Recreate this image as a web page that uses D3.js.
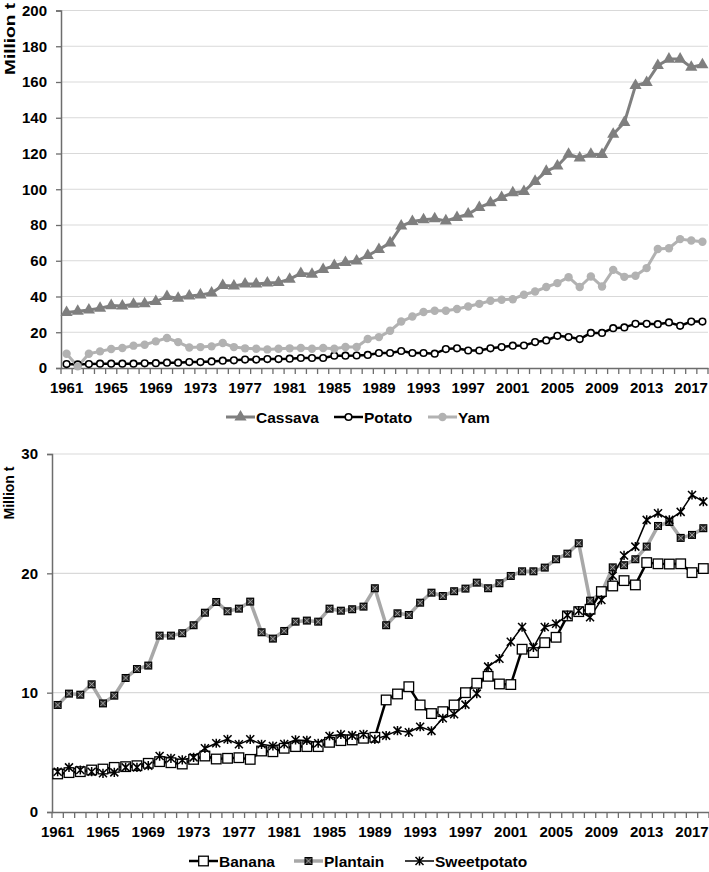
<!DOCTYPE html>
<html><head><meta charset="utf-8">
<script src="https://cdn.jsdelivr.net/npm/d3@7/dist/d3.min.js"></script>
<style>
body{margin:0;background:#fff;}
svg text{font-family:"Liberation Sans",Arial,sans-serif;font-weight:bold;fill:#000;}
</style></head>
<body><svg id="c" width="709" height="872"></svg>
<script>
const years = d3.range(1961, 2019);
const tickYears = [1961,1965,1969,1973,1977,1981,1985,1989,1993,1997,2001,2005,2009,2013,2017];

const cassava = [31.0,31.7,32.5,33.4,34.9,34.7,35.7,36.0,37.2,40.0,
39.0,40.3,40.9,42.0,46.1,45.9,47.0,47.0,47.6,47.8,
49.7,52.9,52.5,55.1,57.3,59.0,59.8,62.9,66.3,70.0,
79.4,82.0,82.9,83.5,82.3,84.2,86.1,89.8,92.4,95.4,
98.0,98.8,104.4,110.0,113.0,119.6,117.5,119.6,119.4,130.8,
137.3,158.0,159.7,169.2,172.8,172.8,168.3,169.6];
const potato = [2.2,2.0,2.2,2.4,2.4,2.4,2.4,2.6,2.7,3.0,
3.0,3.3,3.3,3.7,4.1,4.3,4.7,4.7,5.0,5.0,
5.2,5.6,5.6,5.6,6.9,6.9,7.0,7.3,8.4,8.4,
9.5,8.4,8.4,8.0,10.6,11.0,9.8,9.8,11.0,11.7,
12.5,12.6,14.5,15.4,18.0,17.3,16.2,19.6,19.6,22.3,
22.7,24.7,24.7,24.5,25.5,23.6,26.0,26.0];
const yam = [8.0,0.9,8.0,9.3,10.6,11.2,12.5,13.0,14.9,16.8,
14.5,11.5,11.7,12.1,14.0,11.7,11.0,10.8,10.4,10.8,
11.0,11.2,10.8,11.2,10.8,11.8,11.8,16.2,17.3,20.8,
26.0,28.8,31.3,32.0,32.0,33.0,34.4,35.9,37.6,38.2,
38.5,41.0,42.8,45.3,47.5,50.8,45.3,51.2,45.6,54.9,
51.0,51.6,55.9,66.6,67.0,72.1,71.3,70.6];

const banana = [3.19,3.3,3.38,3.52,3.6,3.74,3.8,3.88,4.08,4.22,
4.13,4.02,4.41,4.69,4.44,4.5,4.55,4.41,5.11,5.05,
5.34,5.48,5.48,5.48,5.84,5.98,6.04,6.18,6.26,9.39,
9.89,10.5,8.97,8.25,8.41,8.97,10.0,10.79,11.37,10.73,
10.68,13.64,13.36,14.19,14.64,16.43,16.79,16.99,18.47,18.94,
19.39,19.03,20.9,20.8,20.78,20.8,20.06,20.4];
const plantain = [8.97,9.92,9.83,10.7,9.1,9.75,11.23,11.98,12.27,14.78,
14.78,14.98,15.65,16.7,17.6,16.82,17.04,17.63,15.06,14.53,
15.17,15.95,16.04,15.95,17.04,16.87,16.99,17.21,18.75,15.65,
16.65,16.51,17.54,18.38,18.1,18.5,18.72,19.22,18.75,19.17,
19.78,20.17,20.17,20.48,21.18,21.65,22.52,17.71,18.33,20.5,
20.68,21.18,22.24,23.97,24.3,22.97,23.22,23.78];
const sweetpotato = [3.38,3.74,3.52,3.38,3.24,3.32,3.74,3.74,3.88,4.69,
4.5,4.36,4.58,5.34,5.76,6.09,5.67,6.09,5.67,5.53,
5.7,6.04,6.0,5.76,6.37,6.5,6.42,6.51,6.09,6.4,
6.82,6.68,7.15,6.8,7.85,8.19,9.0,9.92,12.18,12.85,
14.26,15.5,13.8,15.5,15.77,16.5,16.87,16.32,17.77,19.8,
21.5,22.24,24.48,25.04,24.48,25.15,26.57,26.01];

const topTicks = [0,20,40,60,80,100,120,140,160,180,200];
const botTicks = [0,10,20,30];

const svg = d3.select('#c');
const AX = '#6d6d6d', GRID = '#d9d9d9';

function markerPath(kind, g, x, y, st){
  if(kind==='tri'){
    g.append('path').attr('d',d3.symbol(d3.symbolTriangle,64)()).attr('transform',`translate(${x},${y})`)
      .attr('fill',st.color);
  } else if(kind==='circOpen'){
    g.append('circle').attr('cx',x).attr('cy',y).attr('r',3.3).attr('fill','#fff').attr('stroke','#000').attr('stroke-width',1.6);
  } else if(kind==='circFill'){
    g.append('circle').attr('cx',x).attr('cy',y).attr('r',4.2).attr('fill',st.color);
  } else if(kind==='sqOpen'){
    g.append('rect').attr('x',x-4.8).attr('y',y-4.8).attr('width',9.6).attr('height',9.6).attr('fill','#fff').attr('stroke','#000').attr('stroke-width',1.3);
  } else if(kind==='sqX'){
    g.append('rect').attr('x',x-3.4).attr('y',y-3.4).attr('width',6.8).attr('height',6.8).attr('fill','#3a3a3a').attr('stroke','#000').attr('stroke-width',1.2);
    g.append('path').attr('d',`M${x-2.6},${y-2.6}L${x+2.6},${y+2.6}M${x+2.6},${y-2.6}L${x-2.6},${y+2.6}`).attr('stroke','#aaa').attr('stroke-width',0.9);
  } else if(kind==='star'){
    g.append('path').attr('d',`M${x-4},${y-4}L${x+4},${y+4}M${x+4},${y-4}L${x-4},${y+4}M${x},${y-4.6}L${x},${y+4.6}`)
      .attr('stroke','#000').attr('stroke-width',1.5);
  }
}

function chart(cfg){
  const g = svg.append('g');
  const band = d3.scaleBand().domain(years).range([cfg.x0, cfg.x1]);
  const x = d => band(d) + band.bandwidth()/2;
  const y = d3.scaleLinear().domain([cfg.ticks[0], cfg.ticks[cfg.ticks.length-1]]).range([cfg.y0, cfg.y1]);
  g.selectAll('.grid').data(cfg.ticks.slice(1)).enter().append('line')
    .attr('x1',cfg.x0).attr('x2',cfg.x1).attr('y1',d=>y(d)).attr('y2',d=>y(d))
    .attr('stroke',GRID).attr('stroke-width',1.2);
  const ya = d3.axisLeft(y).tickValues(cfg.ticks).tickSize(5).tickPadding(9).tickFormat(d3.format('d'));
  const yg = g.append('g').attr('transform',`translate(${cfg.x0},0)`).call(ya);
  yg.select('.domain').attr('stroke',AX).attr('stroke-width',1.5);
  yg.selectAll('.tick line').attr('stroke',AX).attr('stroke-width',1.3);
  yg.selectAll('.tick text').attr('font-size',15).attr('font-family','"Liberation Sans",Arial,sans-serif').attr('font-weight','bold').attr('fill','#000');
  const xa = d3.axisBottom(band).tickSize(0).tickPadding(14).tickFormat(d => tickYears.includes(d) ? d : '');
  const xg = g.append('g').attr('transform',`translate(0,${cfg.y0})`).call(xa);
  xg.select('.domain').attr('stroke',AX).attr('stroke-width',1.5);
  xg.selectAll('.tick text').attr('font-size',15).attr('font-family','"Liberation Sans",Arial,sans-serif').attr('font-weight','bold').attr('fill','#000');
  const bounds = years.map(d=>band(d)).concat([band(years[years.length-1])+band.bandwidth()]);
  g.selectAll('.bt').data(bounds).enter().append('line')
    .attr('x1',d=>d).attr('x2',d=>d).attr('y1',cfg.y0).attr('y2',cfg.y0+6).attr('stroke',AX).attr('stroke-width',1.3);
  const t = g.append('text').attr('transform',`translate(${cfg.titleX},${cfg.titleY}) rotate(-90)`)
    .attr('text-anchor','middle').attr('dominant-baseline','central').attr('font-size',cfg.titleSize).text('Million t');
  if(cfg.titleLen) t.attr('textLength',cfg.titleLen).attr('lengthAdjust','spacingAndGlyphs');
  cfg.series.forEach(s=>{
    const line = d3.line().x((d,i)=>x(years[i])).y(d=>y(d));
    g.append('path').datum(s.data).attr('d',line).attr('fill','none')
      .attr('stroke',s.color).attr('stroke-width',s.width).attr('stroke-linejoin','round');
  });
  cfg.series.forEach(s=>{
    const mg = g.append('g');
    s.data.forEach((d,i)=>markerPath(s.marker, mg, x(years[i]), y(d), s));
  });
  cfg.series.forEach(s=>{
    const lg = g.append('g');
    lg.append('line').attr('x1',s.lx).attr('x2',s.lx+29).attr('y1',cfg.ly).attr('y2',cfg.ly)
      .attr('stroke',s.color).attr('stroke-width',s.width);
    markerPath(s.marker, lg, s.lx+14.5, cfg.ly, s);
    lg.append('text').attr('x',s.lx+30).attr('y',cfg.ly).attr('dominant-baseline','central')
      .attr('font-size',15.5).text(s.name);
  });
}

chart({x0:61, x1:708, y0:368, y1:10.5, ticks:topTicks, titleX:9, titleY:39, titleSize:15, titleLen:72, ly:417,
  series:[
    {name:'Cassava', data:cassava, color:'#7f7f7f', width:3, marker:'tri', lx:226},
    {name:'Potato', data:potato, color:'#000', width:2.5, marker:'circOpen', lx:334},
    {name:'Yam', data:yam, color:'#b2b2b2', width:3, marker:'circFill', lx:428}
  ]});

chart({x0:52, x1:709, y0:812, y1:454, ticks:botTicks, titleX:9, titleY:493, titleSize:14, ly:861,
  series:[
    {name:'Plantain', data:plantain, color:'#a8a8a8', width:3.5, marker:'sqX', lx:294},
    {name:'Banana', data:banana, color:'#000', width:2.5, marker:'sqOpen', lx:189},
    {name:'Sweetpotato', data:sweetpotato, color:'#000', width:1.5, marker:'star', lx:405}
  ]});
</script></body></html>
